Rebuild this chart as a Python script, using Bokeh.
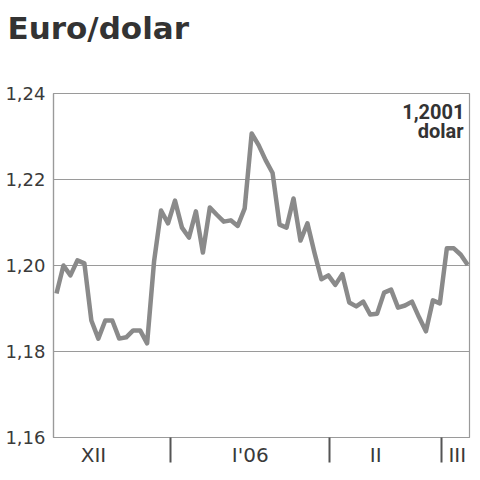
from bokeh.plotting import figure
from bokeh.models import FixedTicker, Label, Range1d, Title
from bokeh.embed import file_html
from bokeh.resources import INLINE

# Daily euro/dollar rate, Dec 2005 - early Mar 2006 (trading-day index)
values = [1.1935, 1.2000, 1.1977, 1.2012, 1.2005, 1.1872, 1.1830, 1.1872, 1.1872, 1.1830,
          1.1833, 1.1849, 1.1849, 1.1819, 1.2010, 1.2128, 1.2098, 1.2151, 1.2088, 1.2065,
          1.2126, 1.2030, 1.2135, 1.2118, 1.2102, 1.2105, 1.2092, 1.2133, 1.2307, 1.2280,
          1.2245, 1.2215, 1.2095, 1.2088, 1.2156, 1.2058, 1.2098, 1.2030, 1.1968, 1.1977,
          1.1955, 1.1980, 1.1914, 1.1905, 1.1916, 1.1886, 1.1888, 1.1937, 1.1944, 1.1902,
          1.1907, 1.1916, 1.1880, 1.1847, 1.1919, 1.1912, 1.2040, 1.2040, 1.2025, 1.2001]
days = list(range(len(values)))

month_labels = ["XII", "I'06", "II", "III"]
month_label_pos = [5.3, 27.8, 45.8, 57.5]
month_bounds = [16.36, 39.17, 55.24]
y_ticks = [1.16, 1.18, 1.20, 1.22, 1.24]
last_value_text = "1,2001"
unit_text = "dolar"
title_text = "Euro/dolar"

W, H = 472, 472
p = figure(width=W, height=H, output_backend="svg", toolbar_location=None, title=None,
           x_range=Range1d(-0.43, 59.25), y_range=Range1d(1.16, 1.24),
           min_border_left=53, min_border_right=3, min_border_top=93, min_border_bottom=35)
p.background_fill_color = "white"
p.border_fill_color = "white"
p.outline_line_color = "#9a9a9a"
p.outline_line_width = 1.2

# spacer between frame and title, then the title itself
p.add_layout(Title(text=" ", text_font_size="2px", standoff=44), "above")
p.add_layout(Title(text=title_text, align="left", offset=-46, standoff=0,
                   text_font="DejaVu Sans", text_font_style="bold", text_font_size="31px",
                   text_color="#333333"), "above")

p.line(days, values, line_color="#8a8a8a", line_width=4.5, line_join="round")

# y axis
p.yaxis.ticker = FixedTicker(ticks=y_ticks)
p.yaxis.major_label_overrides = {t: f"{t:.2f}".replace(".", ",") for t in y_ticks}
p.yaxis.major_tick_out = 0
p.yaxis.major_tick_in = 0
p.yaxis.minor_tick_out = 0
p.yaxis.minor_tick_in = 0
p.yaxis.axis_line_color = "#9a9a9a"
p.yaxis.axis_line_width = 1.2
p.yaxis.major_label_standoff = 8
p.yaxis.major_label_text_font = "DejaVu Sans"
p.yaxis.major_label_text_font_size = "18px"
p.yaxis.major_label_text_color = "#3a3a3a"

# x axis: month names between boundary ticks
p.xaxis.ticker = FixedTicker(ticks=month_label_pos, minor_ticks=month_bounds)
p.xaxis.major_label_overrides = dict(zip(month_label_pos, month_labels))
p.xaxis.major_tick_out = 0
p.xaxis.major_tick_in = 0
p.xaxis.minor_tick_out = 25
p.xaxis.minor_tick_in = 0
p.xaxis.minor_tick_line_color = "#555555"
p.xaxis.minor_tick_line_width = 2
p.xaxis.axis_line_color = "#9a9a9a"
p.xaxis.axis_line_width = 1.2
p.xaxis.major_label_standoff = -20
p.xaxis.major_label_text_font = "DejaVu Sans"
p.xaxis.major_label_text_font_size = "20px"
p.xaxis.major_label_text_color = "#3a3a3a"

p.xgrid.grid_line_color = None
p.ygrid.ticker = FixedTicker(ticks=y_ticks)
p.ygrid.grid_line_color = "#9a9a9a"
p.ygrid.grid_line_width = 1.2

# screen units are relative to the plot frame (origin bottom-left)
p.add_layout(Label(x=411, y=326, x_units="screen", y_units="screen", text=last_value_text,
                   text_font="Roboto", text_font_style="bold", text_font_size="20px",
                   text_color="#333333", text_baseline="alphabetic", text_align="right"))
p.add_layout(Label(x=410, y=307, x_units="screen", y_units="screen", text=unit_text,
                   text_font="Roboto", text_font_style="bold", text_font_size="20px",
                   text_color="#333333", text_baseline="alphabetic", text_align="right"))

open("out.html", "w").write(file_html(p, INLINE))
